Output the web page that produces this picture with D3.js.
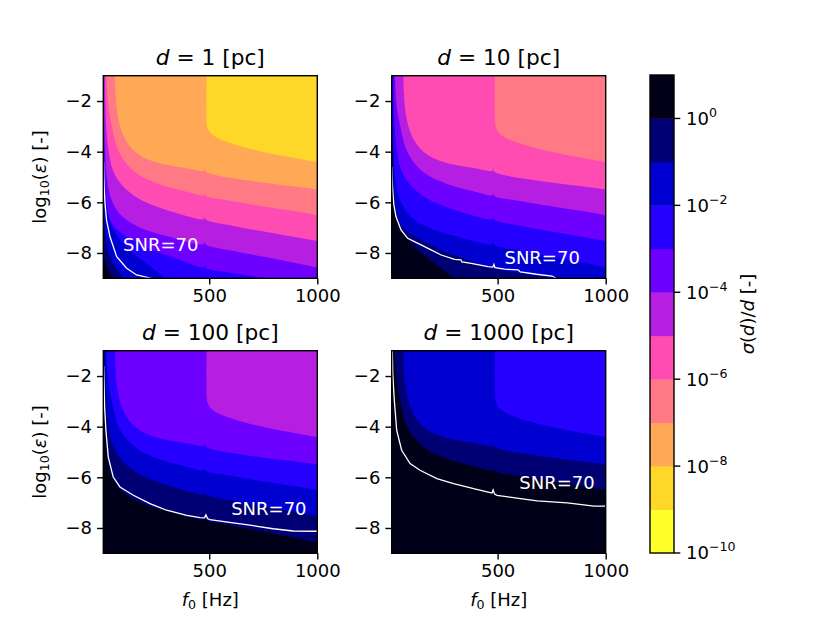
<!DOCTYPE html>
<html>
<head>
<meta charset="utf-8">
<script src="https://cdn.jsdelivr.net/npm/d3@7"></script>
<style>
  body { margin: 0; background: #fff; }
  svg { display: block; font-family: "DejaVu Sans", sans-serif; }
</style>
</head>
<body>
<svg id="fig" width="830" height="623"></svg>
<script>
// distances of the four panels [pc]
var distances = [1, 10, 100, 1000];
// colour bands move two decades per decade of d
var bandShift = [0, 2, 4, 6];

// colourbar levels, log10(sigma(d)/d)
var cbLevels = [-10, -9, -8, -7, -6, -5, -4, -3, -2, -1, 0, 1];
var cbTicks = [-10, -8, -6, -4, -2, 0];
var xTicks = [500, 1000];
var yTicks = [-2, -4, -6, -8];

var c_0  = [[10,-8.1],[16,-8.28],[22,-8.42],[33,-8.68],[49,-9.0]];
var c_m1 = [[10,-4.6],[11.5,-5.8],[14,-6.6],[20,-7.3],[32,-7.9],[50,-8.35],[75,-8.7],[105,-9.0]];
var c_m2 = [[10.6,-1],[12,-3.5],[15,-4.7],[22,-5.9],[38,-6.7],[76,-7.36],[146,-8.0],[223,-8.5],[300,-9.0]];
var c_m3 = [[11.8,-1],[13,-3.0],[15.5,-4.5],[20,-5.5],[30,-6.3],[50,-6.85],[90,-7.2],[150,-7.5],[230,-7.85],[340,-8.2],[476,-8.56],[480,-8.43],[484,-8.58],[600,-8.78],[767,-9.0]];
var c_m4 = [[13.5,-1],[15,-2.8],[19,-4.2],[26,-5.0],[40,-5.7],[72,-6.3],[118,-6.7],[195,-7.05],[303,-7.33],[476,-7.65],[480,-7.52],[484,-7.67],[611,-7.92],[766,-8.17],[889,-8.38],[1000,-8.58]];
var c_m5 = [[18,-1],[20,-2.2],[25,-3.2],[35,-4.0],[52,-4.67],[85,-5.2],[140,-5.66],[220,-6.05],[340,-6.4],[476,-6.66],[480,-6.53],[484,-6.68],[611,-6.93],[766,-7.17],[889,-7.36],[1000,-7.53]];
var c_m6 = [[25,-1],[30,-1.9],[38,-2.5],[49,-2.96],[62,-3.5],[82,-4.0],[110,-4.4],[149,-4.75],[210,-5.08],[303,-5.38],[396,-5.58],[476,-5.72],[480,-5.59],[484,-5.74],[581,-5.92],[689,-6.08],[796,-6.22],[920,-6.38],[1000,-6.51]];
var c_m7 = [[64,-1],[66,-1.6],[72,-2.3],[86,-2.96],[110,-3.49],[150,-3.95],[215,-4.3],[300,-4.52],[400,-4.66],[476,-4.75],[480,-4.62],[484,-4.78],[534,-4.93],[642,-5.09],[766,-5.24],[889,-5.37],[1000,-5.5]];
var c_m8 = [[488,-1],[487,-2.0],[488,-2.8],[492,-3.05],[505,-3.25],[530,-3.42],[570,-3.58],[640,-3.78],[730,-3.97],[830,-4.15],[920,-4.29],[1000,-4.41]];
var contourSet = [[0, c_0], [-1, c_m1], [-2, c_m2], [-3, c_m3], [-4, c_m4], [-5, c_m5], [-6, c_m6], [-7, c_m7], [-8, c_m8]];

// SNR = 70 lines, one per panel
var snr_d1 = [[11,-4.4],[12.5,-5.0],[14.5,-5.5],[18,-6.04],[25,-6.7],[41,-7.36],[72,-8.15],[118,-8.6],[164,-8.87],[218,-8.97],[232,-9.0]];
var snr_d10 = [[10.5,-4.6],[12,-5.0],[14.6,-5.51],[20,-6.1],[30,-6.57],[53,-7.09],[84,-7.42],[115,-7.55],[146,-7.68],[192,-7.88],[239,-8.08],[301,-8.25],[330,-8.27],[335,-8.35],[378,-8.41],[455,-8.54],[478,-8.56],[483,-8.45],[488,-8.58],[533,-8.64],[595,-8.67],[605,-8.75],[680,-8.84],[752,-8.91],[770,-9.0]];
var snr_d100 = [[11.5,-1.6],[13,-2.17],[16,-3.2],[22,-4.14],[33,-5.2],[56,-5.99],[87,-6.38],[149,-6.71],[226,-7.04],[303,-7.3],[396,-7.5],[457,-7.59],[478,-7.6],[485,-7.48],[492,-7.63],[503,-7.67],[611,-7.8],[689,-7.89],[796,-8.03],[889,-8.12],[1000,-8.13]];
var snr_d1000 = [[13,-1.0],[15,-1.9],[21,-2.83],[33,-4.14],[56,-4.93],[95,-5.46],[141,-5.72],[219,-6.05],[296,-6.25],[389,-6.45],[466,-6.6],[474,-6.62],[479,-6.5],[486,-6.66],[497,-6.71],[606,-6.84],[683,-6.93],[822,-7.01],[946,-7.14],[1000,-7.14]];
var snrLines = [snr_d1, snr_d10, snr_d100, snr_d1000];
var snrLabelAt = [[276,-7.68],[706,-8.18],[776,-7.22],[775,-6.20]];

// gnuplot2_r sampled at the band centres, bottom band first
var bandColors = ['#ffff29','#ffd728','#ffa956','#ff7a85','#fe4cb3','#b61ee1','#6d00ff','#2500ff','#0000d1','#000074','#000018'];

var svg = d3.select('#fig');
var pw = 214, ph = 202.6;
var origins = [[103.3, 75.7], [391.7, 75.7], [103.3, 350.7], [391.7, 350.7]];
var FS = 18;

origins.forEach(function(o, i) {
  var g = svg.append('g').attr('transform', 'translate(' + o[0] + ',' + o[1] + ')');
  var x = d3.scaleLinear().domain([10, 1000]).range([0, pw]);
  var y = d3.scaleLinear().domain([-9, -1]).range([ph, 0]);

  g.append('clipPath').attr('id', 'clip' + i)
    .append('rect').attr('width', pw).attr('height', ph);
  var plot = g.append('g').attr('clip-path', 'url(#clip' + i + ')');

  // everything above the top level is black
  plot.append('rect').attr('width', pw).attr('height', ph).attr('fill', bandColors[10]);

  var line = d3.line()
    .x(function(d) { return x(d[0]); })
    .y(function(d) { return y(d[1]); })
    .curve(d3.curveCatmullRom.alpha(0.5));

  // paint nested regions from the highest level down
  contourSet.forEach(function(c) {
    var G = c[0] + bandShift[i];
    if (G > 0) return;
    var pts = c[1], first = pts[0], last = pts[pts.length - 1];
    var d = line(pts) +
      'L' + x(2000) + ',' + y(last[1]) +
      'L' + x(2000) + ',' + y(5) +
      'L' + x(first[0]) + ',' + y(5) + 'Z';
    plot.append('path').attr('d', d).attr('fill', bandColors[G + 9]);
  });

  plot.append('path')
    .datum(snrLines[i])
    .attr('d', d3.line().x(function(d) { return x(d[0]); }).y(function(d) { return y(d[1]); }))
    .attr('fill', 'none')
    .attr('stroke', '#fff')
    .attr('stroke-width', 1.3);

  g.append('text')
    .attr('x', x(snrLabelAt[i][0]))
    .attr('y', y(snrLabelAt[i][1]))
    .attr('text-anchor', 'middle')
    .attr('dominant-baseline', 'central')
    .attr('fill', '#fff')
    .style('font-size', FS + 'px')
    .text('SNR=70');

  // axes
  var xa = g.append('g').attr('transform', 'translate(0,' + ph + ')')
    .call(d3.axisBottom(x).tickValues(xTicks).tickSize(6.3).tickSizeOuter(0).tickPadding(5)
      .tickFormat(d3.format('d')));
  var ya = g.append('g')
    .call(d3.axisLeft(y).tickValues(yTicks).tickSize(6.3).tickSizeOuter(0).tickPadding(5)
      .tickFormat(function(d) { return '\u2212' + Math.abs(d); }));
  [xa, ya].forEach(function(a) {
    a.select('.domain').remove();
    a.attr('font-family', null).attr('font-size', null);
    a.selectAll('line').attr('stroke', '#000').attr('stroke-width', 1.4);
    a.selectAll('text').attr('fill', '#000').style('font-size', FS + 'px');
  });

  g.append('rect').attr('width', pw).attr('height', ph)
    .attr('fill', 'none').attr('stroke', '#000').attr('stroke-width', 1.4);

  // title
  var t = g.append('text').attr('x', pw / 2).attr('y', -10.8)
    .attr('text-anchor', 'middle').style('font-size', '21.7px');
  t.append('tspan').attr('font-style', 'italic').text('d');
  t.append('tspan').text(' = ' + distances[i] + ' [pc]');

  if (i % 2 === 0) {
    var yl = g.append('text')
      .attr('transform', 'translate(-57,' + (ph / 2) + ') rotate(-90)')
      .attr('text-anchor', 'middle').style('font-size', FS + 'px');
    yl.append('tspan').text('log');
    yl.append('tspan').attr('baseline-shift', '-25%').style('font-size', '12.6px').text('10');
    yl.append('tspan').text('(');
    yl.append('tspan').attr('font-style', 'italic').text('\u03b5');
    yl.append('tspan').text(') [-]');
  }
  if (i >= 2) {
    var xl = g.append('text').attr('x', pw / 2).attr('y', ph + 53)
      .attr('text-anchor', 'middle').style('font-size', FS + 'px');
    xl.append('tspan').attr('font-style', 'italic').text('f');
    xl.append('tspan').attr('baseline-shift', '-25%').style('font-size', '12.6px').text('0');
    xl.append('tspan').text(' [Hz]');
  }
});

// colourbar
var cbx = 650, cby = 75, cbw = 24, cbh = 478;
var cb = svg.append('g').attr('transform', 'translate(' + cbx + ',' + cby + ')');
var cy = d3.scaleLinear().domain([cbLevels[0], cbLevels[cbLevels.length - 1]]).range([cbh, 0]);
bandColors.forEach(function(c, k) {
  var lo = cbLevels[k], hi = cbLevels[k + 1];
  cb.append('rect').attr('x', 0).attr('y', cy(hi))
    .attr('width', cbw).attr('height', cy(lo) - cy(hi) + 0.4)
    .attr('fill', c);
});
cb.append('rect').attr('width', cbw).attr('height', cbh)
  .attr('fill', 'none').attr('stroke', '#000').attr('stroke-width', 1.4);
cbTicks.forEach(function(v) {
  cb.append('line').attr('x1', cbw).attr('x2', cbw + 6.3)
    .attr('y1', cy(v)).attr('y2', cy(v))
    .attr('stroke', '#000').attr('stroke-width', 1.4);
  var tx = cb.append('text').attr('x', cbw + 12).attr('y', cy(v))
    .attr('dy', '0.36em').style('font-size', FS + 'px');
  tx.append('tspan').text('10');
  tx.append('tspan').attr('dy', -8).style('font-size', '12.6px')
    .text(v < 0 ? '\u2212' + Math.abs(v) : String(v));
});
var cl = svg.append('text')
  .attr('transform', 'translate(754,' + (cby + cbh / 2) + ') rotate(-90)')
  .attr('text-anchor', 'middle').style('font-size', FS + 'px');
cl.append('tspan').attr('font-style', 'italic').text('\u03c3');
cl.append('tspan').text('(');
cl.append('tspan').attr('font-style', 'italic').text('d');
cl.append('tspan').text(')/');
cl.append('tspan').attr('font-style', 'italic').text('d');
cl.append('tspan').text(' [-]');
</script>
</body>
</html>
